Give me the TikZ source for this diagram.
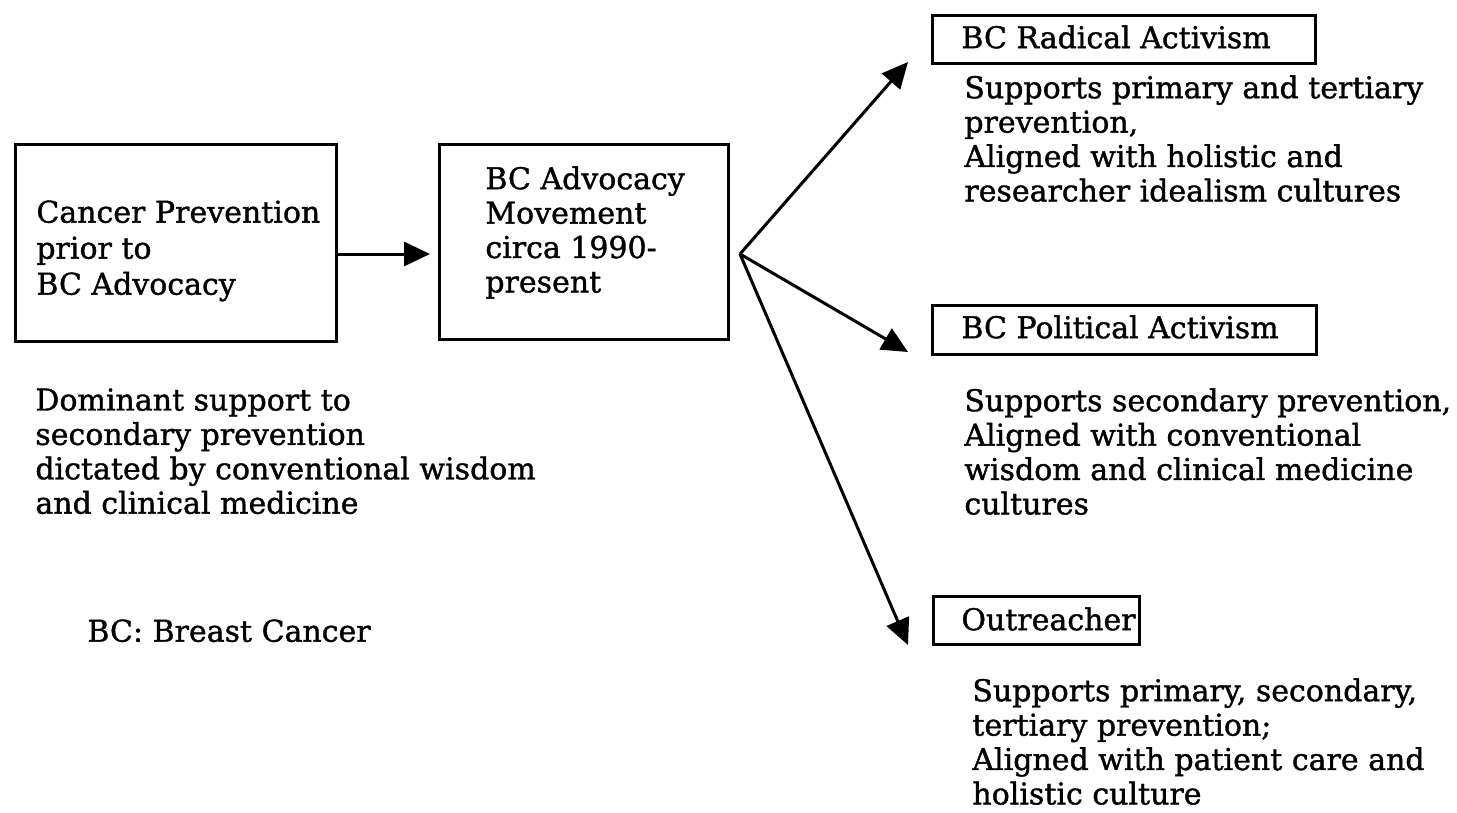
\documentclass[tikz,border=0pt]{standalone}
\usepackage{fontspec}
\setmainfont[FakeBold=1.2]{DejaVu Serif}
\usetikzlibrary{arrows.meta}
\begin{document}
\begin{tikzpicture}[x=0.5pt,y=-0.5pt,
  every node/.style={font=\fontsize{15}{17.2}\selectfont},
  frame/.style={draw,line width=1.4pt,inner sep=0pt},
  txt/.style={anchor=north west,align=left,inner sep=0pt},
  arr/.style={line width=1.5pt,-{Triangle[length=13pt,width=12pt]}}]
\useasboundingbox (0,0) rectangle (1457,813);
% boxes
\node[frame,anchor=north west,minimum width=160.5pt,minimum height=98.5pt] (b1) at (14,143) {};
\node[txt,font=\fontsize{15}{18}\selectfont] (t1) at (36,200) {Cancer Prevention\\prior to\\BC Advocacy};
\node[frame,anchor=north west,minimum width=144.5pt,minimum height=97.5pt] (b2) at (438,143) {};
\node[txt] (t2) at (485,166) {BC Advocacy\\Movement\\circa 1990-\\present};
\node[frame,anchor=north west,minimum width=191.5pt,minimum height=24pt] (r1) at (931,14) {};
\node[txt] at (961,25) (r1t) {BC Radical Activism};
\node[frame,anchor=north west,minimum width=192pt,minimum height=24.5pt] (r2) at (931,304) {};
\node[txt] at (961,315) (r2t) {BC Political Activism};
\node[frame,anchor=north west,minimum width=103pt,minimum height=24pt] (r3) at (932,595) {};
\node[txt] at (961,607) (r3t) {Outreacher};
% descriptions
\node[txt] (d1) at (964,75) {Supports primary and tertiary\\prevention,\\Aligned with holistic and\\researcher idealism cultures};
\node[txt] (d2) at (964,388) {Supports secondary prevention,\\Aligned with conventional\\wisdom and clinical medicine\\cultures};
\node[txt] (d3) at (972,678) {Supports primary, secondary,\\tertiary prevention;\\Aligned with patient care and\\holistic culture};
\node[txt] (d0) at (35,388) {Dominant support to\\secondary prevention\\dictated by conventional wisdom\\and clinical medicine};
\node[txt] (key) at (87,619) {BC: Breast Cancer};
% connectors
\coordinate (fan) at (740,254);
\coordinate (e1) at (908,62);
\coordinate (e2) at (908,352);
\coordinate (e3) at (908,645);
\draw[arr,shorten >=4pt] (b1.east |- fan) -- (b2.west |- fan);
\draw[arr] (fan) -- (e1);
\draw[arr] (fan) -- (e2);
\draw[arr] (fan) -- (e3);
\end{tikzpicture}
\end{document}
